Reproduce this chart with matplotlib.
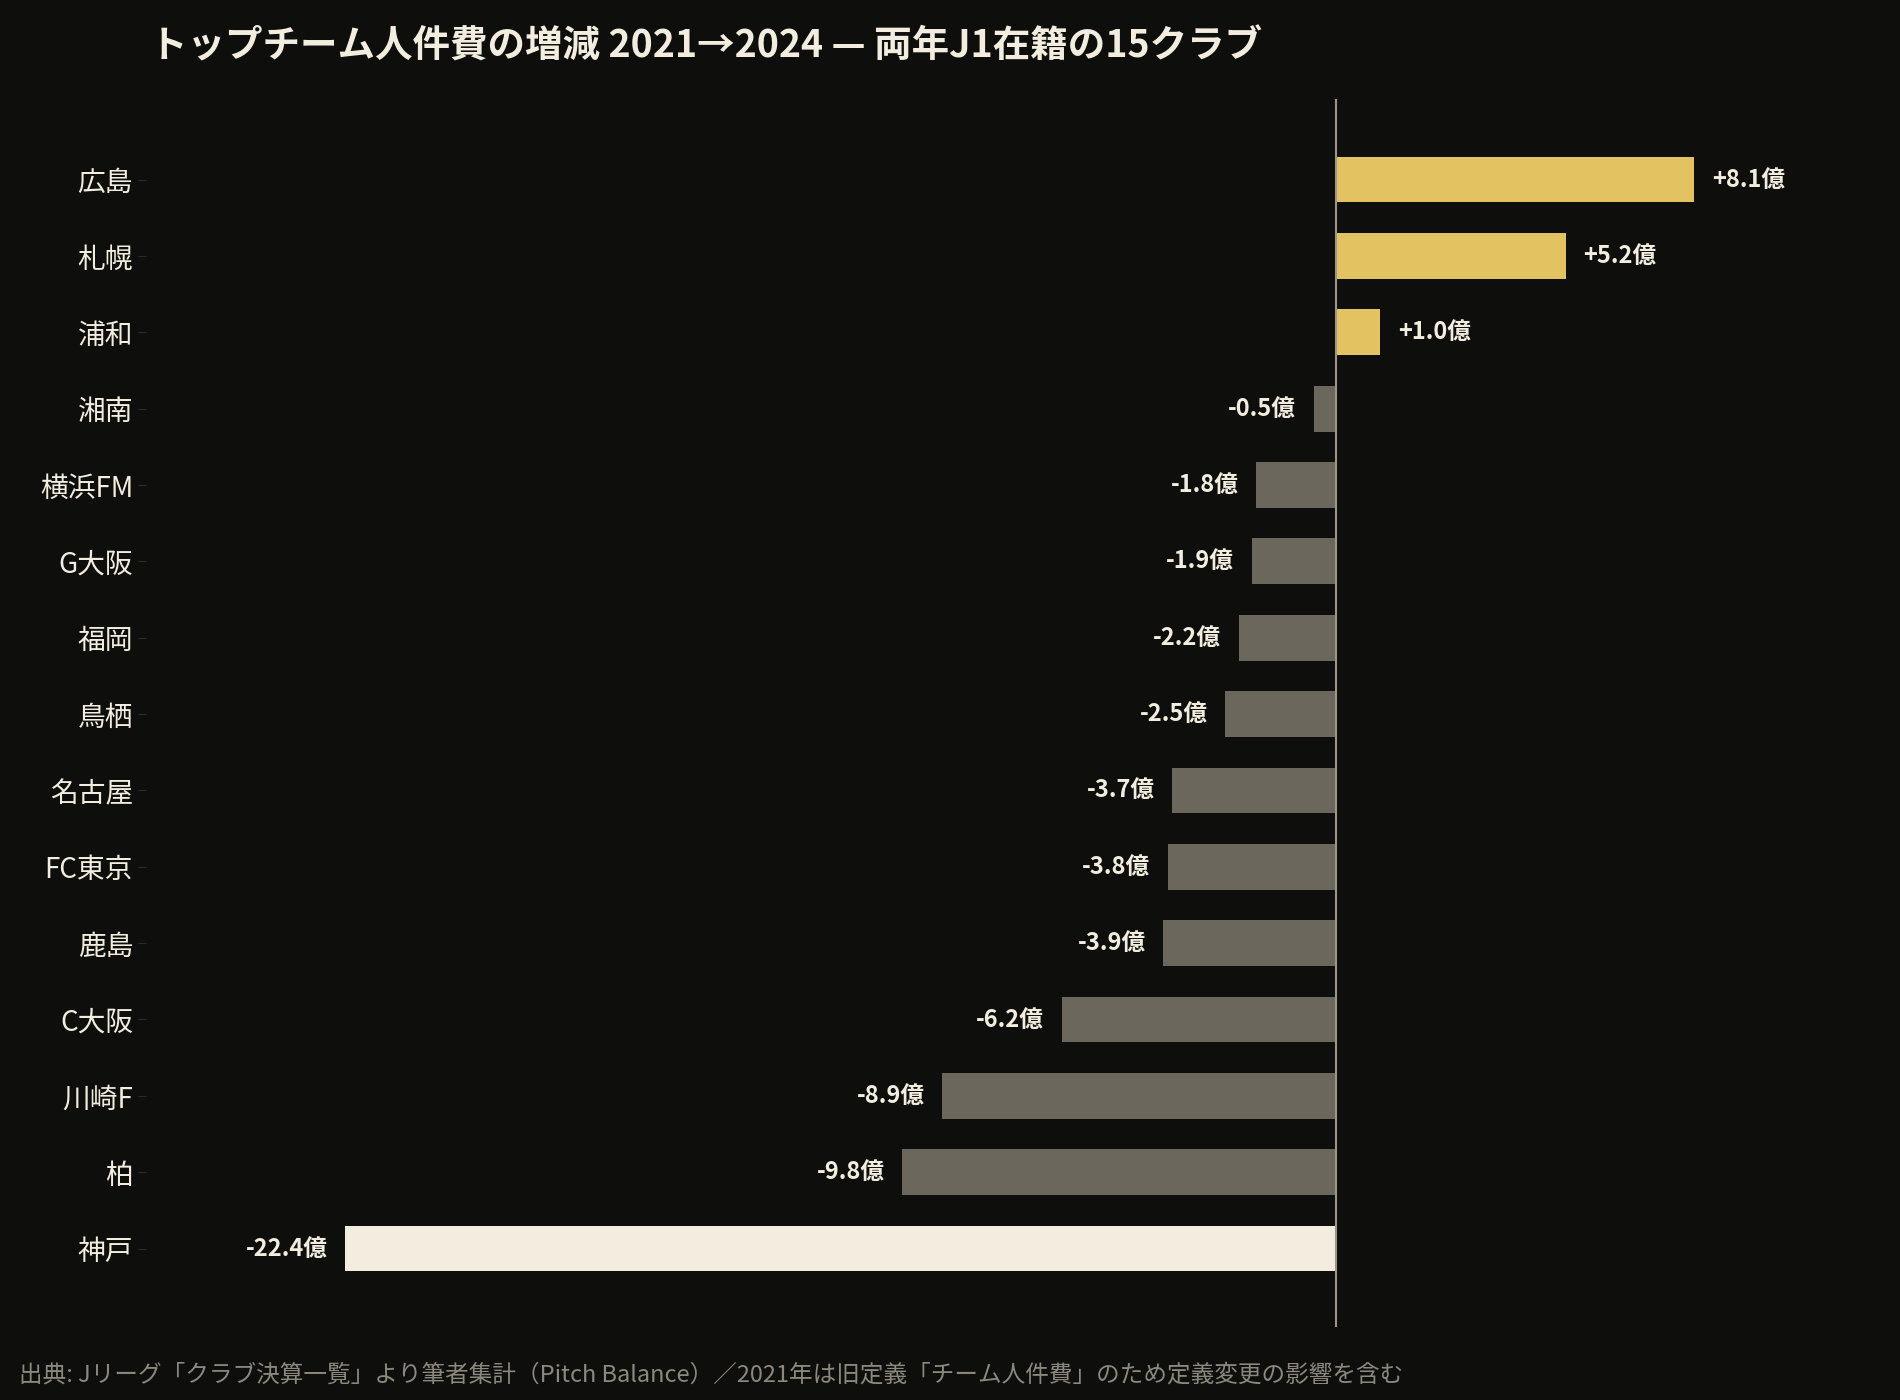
import matplotlib.pyplot as plt

plt.rcParams['font.family'] = ['Noto Sans CJK JP', 'DejaVu Sans']

clubs = ['広島', '札幌', '浦和', '湘南', '横浜FM', 'G大阪', '福岡', '鳥栖', '名古屋',
         'FC東京', '鹿島', 'C大阪', '川崎F', '柏', '神戸']
change = [8.1, 5.2, 1.0, -0.5, -1.8, -1.9, -2.2, -2.5, -3.7, -3.8, -3.9, -6.2, -8.9, -9.8, -22.4]

bg = '#0e0e0c'
colors = []
for c, v in zip(clubs, change):
    if c == '神戸':
        colors.append('#f3eddf')
    elif v > 0:
        colors.append('#e2c261')
    else:
        colors.append('#6b675c')

fig = plt.figure(figsize=(19, 14), dpi=100, facecolor=bg)
ax = fig.add_axes([0.077, 0.052, 0.903, 0.877], facecolor=bg)

y = list(range(len(clubs)))
ax.barh(y, change, height=0.6, color=colors)
ax.set_xlim(-26.9, 11.9)
ax.set_ylim(len(clubs) - 1 + 1.03, -1.05)
ax.axvline(0, color='#9a968a', lw=1.5)

for yi, v in zip(y, change):
    txt = f'{v:+.1f}億'
    if v > 0:
        ax.text(v + 0.4, yi, txt, va='center', ha='left', color='#f3eddf', fontsize=17, fontweight='bold')
    else:
        ax.text(v - 0.4, yi, txt, va='center', ha='right', color='#f3eddf', fontsize=17, fontweight='bold')

ax.set_yticks(y)
ax.set_yticklabels(clubs, color='#f3eddf', fontsize=20)
ax.tick_params(axis='y', length=6, color='#2a2a27')
ax.set_xticks([])
for s in ax.spines.values():
    s.set_visible(False)

fig.text(0.079, 0.967, 'トップチーム人件費の増減 2021→2024 — 両年J1在籍の15クラブ',
         color='#f3eddf', fontsize=27, fontweight='bold', va='center')
fig.text(0.01, 0.018, '出典: Jリーグ「クラブ決算一覧」より筆者集計（Pitch Balance）／2021年は旧定義「チーム人件費」のため定義変更の影響を含む',
         color='#8c887e', fontsize=17, va='center')

fig.savefig('out.png', facecolor=bg)
